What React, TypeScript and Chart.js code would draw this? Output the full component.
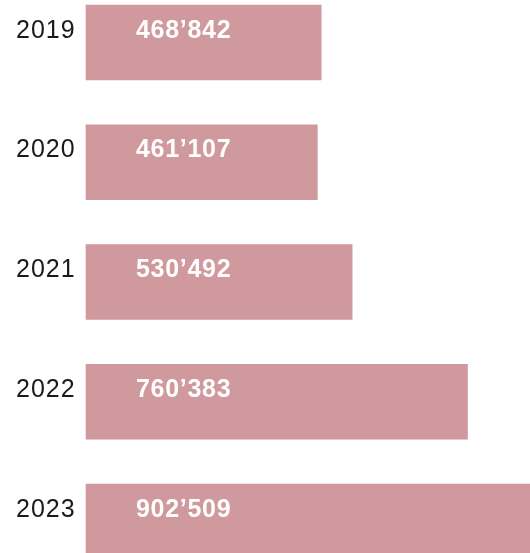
import React, { useEffect, useRef } from "react";
import { Chart, registerables } from "chart.js";

Chart.register(...registerables);

const years = ["2019", "2020", "2021", "2022", "2023"];
const visitors = [468842, 461107, 530492, 760383, 902509];

const BAR_COLOR = "#CF999E";

function fmt(v: number): string {
  return String(v).replace(/\B(?=(\d{3})+(?!\d))/g, "\u2019");
}

const labelPlugin = {
  id: "labelPlugin",
  afterDatasetsDraw(chart: any) {
    const ctx = chart.ctx;
    const meta = chart.getDatasetMeta(0);
    ctx.save();
    ctx.textBaseline = "alphabetic";
    ctx.textAlign = "left";
    meta.data.forEach((bar: any, i: number) => {
      const top = bar.y - bar.height / 2;
      const base = top + 32.5;
      ctx.font = "25px 'Liberation Sans', Arial, sans-serif";
      (ctx as any).letterSpacing = "1px";
      ctx.fillStyle = "#1a1a1a";
      ctx.fillText(years[i], 16, base);
      ctx.font = "bold 25px 'Liberation Sans', Arial, sans-serif";
      (ctx as any).letterSpacing = "0.7px";
      ctx.fillStyle = "#ffffff";
      ctx.fillText(fmt(visitors[i]), 136, base);
    });
    (ctx as any).letterSpacing = "0px";
    ctx.restore();
  },
};

export default function App() {
  const ref = useRef<HTMLCanvasElement | null>(null);
  useEffect(() => {
    document.body.style.margin = "0";
    if (!ref.current) return;
    const chart = new Chart(ref.current, {
      type: "bar",
      data: {
        labels: years,
        datasets: [
          {
            data: visitors,
            backgroundColor: BAR_COLOR,
            borderWidth: 0,
            barThickness: 75,
            clip: false,
          } as any,
        ],
      },
      options: {
        indexAxis: "y",
        animation: false,
        responsive: true,
        maintainAspectRatio: false,
        layout: { padding: { left: 86, right: 0, top: 42.5, bottom: 31.5 } },
        plugins: { legend: { display: false }, tooltip: { enabled: false } },
        scales: {
          x: { display: false, min: 0, max: 885000 },
          y: { display: false, offset: false, grid: { display: false } },
        },
      },
      plugins: [labelPlugin],
    });
    return () => chart.destroy();
  }, []);
  return (
    <div style={{ position: "fixed", left: 0, top: 0, width: 530, height: 553 }}>
      <canvas ref={ref} />
    </div>
  );
}
